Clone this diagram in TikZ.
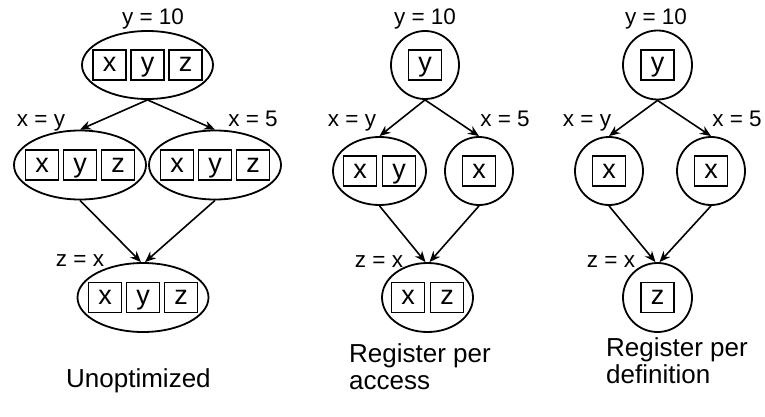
\documentclass[tikz,border=0pt]{standalone}
\usepackage{fontspec}
\setmainfont{Liberation Sans}
\usetikzlibrary{shapes.geometric,arrows.meta}
\begin{document}
\begin{tikzpicture}[x=1pt,y=-1pt,
  regset/.style 2 args={ellipse, draw, line width=1.8pt, inner sep=0pt,
    minimum width=#1pt, minimum height=#2pt},
  reg/.style={draw, line width=1.6pt, minimum width=33pt, minimum height=30pt,
    inner sep=0pt, text height=14pt, text depth=0pt,
    font=\fontsize{27}{27}\selectfont},
  flow/.style={line width=1.6pt, -{Stealth[length=11pt,width=9pt]}},
  lbl/.style={anchor=base, inner sep=0pt, font=\fontsize{22.5}{24}\selectfont},
  caption/.style={anchor=north west, align=left, inner sep=0pt,
    font=\fontsize{26}{27}\selectfont}
]
\useasboundingbox (0,0) rectangle (765,417);

% ---------- Unoptimized ----------
\node[regset={131}{68}] (a1) at (147.5,65) {};
\node[regset={132}{69}] (b1) at (80,165) {};
\node[regset={132}{69}] (c1) at (215,165) {};
\node[regset={131}{69}] (d1) at (143,297.5) {};
\foreach \n in {a1,b1,c1,d1}{
  \node[reg] (\n x) at ([xshift=-38pt]\n.center) {x};
  \node[reg] (\n y) at (\n.center) {y};
  \node[reg] (\n z) at ([xshift=38pt]\n.center) {z};
}
\draw[flow] (a1.south) -- (b1.north);
\draw[flow] (a1.south) -- (c1.north);
\draw[flow] (b1.south) -- ([xshift=-2pt]d1.north);
\draw[flow] (c1.south) -- ([xshift=2pt]d1.north);
\node[lbl] (a1l) at (153,25) {y = 10};
\node[lbl] (b1l) at (41,126) {x = y};
\node[lbl] (c1l) at (253,126) {x = 5};
\node[lbl] (d1l) at (80,266) {z = x};
\node[caption] (cap1) at (66,368) {Unoptimized};

% ---------- Register per access ----------
\node[regset={68}{68}] (a2) at (425,65) {};
\node[regset={93}{68}] (b2) at (379.5,171) {};
\node[regset={68}{68}] (c2) at (479,171) {};
\node[regset={91}{69}] (d2) at (427.5,297.5) {};
\node[reg] (a2y) at (a2.center) {y};
\node[reg] (b2x) at ([xshift=-19.5pt]b2.center) {x};
\node[reg] (b2y) at ([xshift=19.5pt]b2.center) {y};
\node[reg] (c2x) at (c2.center) {x};
\node[reg] (d2x) at ([xshift=-19.5pt]d2.center) {x};
\node[reg] (d2z) at ([xshift=19.5pt]d2.center) {z};
\draw[flow] (a2.south) -- (b2.north);
\draw[flow] (a2.south) -- (c2.north);
\draw[flow] (b2.south) -- ([xshift=-2pt]d2.north);
\draw[flow] (c2.south) -- ([xshift=2pt]d2.north);
\node[lbl] (a2l) at (425,25) {y = 10};
\node[lbl] (b2l) at (352,127) {x = y};
\node[lbl] (c2l) at (505,127) {x = 5};
\node[lbl] (d2l) at (379,267) {z = x};
\node[caption] (cap2) at (349,343) {Register per\\access};

% ---------- Register per definition ----------
\node[regset={69}{69}] (a3) at (657.5,65) {};
\node[regset={68}{68}] (b3) at (609,171) {};
\node[regset={68}{68}] (c3) at (711,171) {};
\node[regset={69}{69}] (d3) at (657.5,297.5) {};
\node[reg] (a3y) at (a3.center) {y};
\node[reg] (b3x) at (b3.center) {x};
\node[reg] (c3x) at (c3.center) {x};
\node[reg] (d3z) at (d3.center) {z};
\draw[flow] (a3.south) -- (b3.north);
\draw[flow] (a3.south) -- (c3.north);
\draw[flow] (b3.south) -- ([xshift=-2pt]d3.north);
\draw[flow] (c3.south) -- ([xshift=2pt]d3.north);
\node[lbl] (a3l) at (656,25) {y = 10};
\node[lbl] (b3l) at (587,127) {x = y};
\node[lbl] (c3l) at (737,127) {x = 5};
\node[lbl] (d3l) at (611,267) {z = x};
\node[caption] (cap3) at (606,337) {Register per\\definition};
\end{tikzpicture}
\end{document}
